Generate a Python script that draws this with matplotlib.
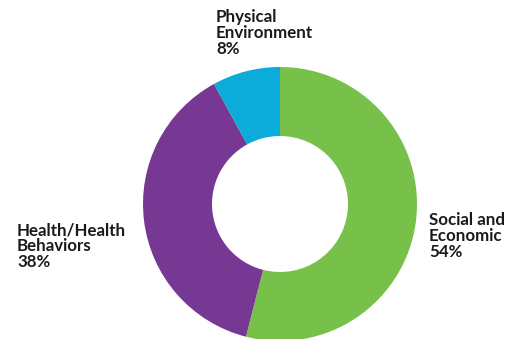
import matplotlib
matplotlib.use("Agg")
import matplotlib.pyplot as plt

# Share of health outcomes by determinant
categories = ["Social and\nEconomic", "Health/Health\nBehaviors", "Physical\nEnvironment"]
shares = [54, 38, 8]
colors = ["#77C04A", "#773894", "#0CACDA"]

W, H = 521, 339
fig = plt.figure(figsize=(W / 100, H / 100), dpi=100)
ax = fig.add_axes([0, 0, 1, 1])
ax.set_xlim(0, W)
ax.set_ylim(0, H)
ax.set_aspect("equal")
ax.axis("off")

ax.pie(shares, colors=colors, startangle=90, counterclock=False,
       center=(280, 135), radius=137,
       wedgeprops=dict(width=69, linewidth=0))
ax.set_xlim(0, W)
ax.set_ylim(0, H)

label_pos = [(429, 339 - 212), (17, 339 - 222), (216, 339 - 9)]
for name, val, (x, y) in zip(categories, shares, label_pos):
    ax.text(x, y, f"{name}\n{val}%", ha="left", va="top",
            fontsize=12.2, fontweight="bold", family="Lato",
            color="#1a1a1a", linespacing=1.0)

fig.savefig("out.png", dpi=100)
